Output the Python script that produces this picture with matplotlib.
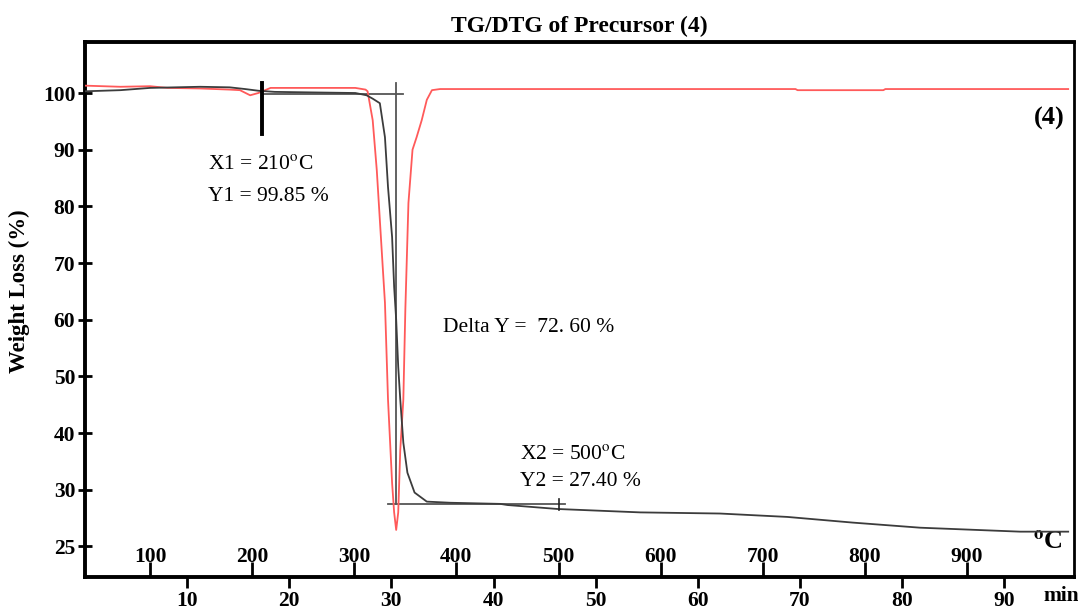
import matplotlib
matplotlib.use("Agg")
import matplotlib.pyplot as plt
import numpy as np

plt.rcParams['font.family'] = ['Liberation Serif', 'DejaVu Serif']
plt.rcParams['mathtext.fontset'] = 'stix'

# TG curve (weight %, vs temperature in degC)
tg_temp = [36, 71, 100, 149, 178, 193, 206, 222, 260, 301, 312, 318, 325, 330,
           333, 337, 339, 341, 343, 345, 348, 352, 359, 371, 394, 443, 450,
           499, 580, 658, 724, 788, 854, 952, 999]
tg_weight = [100.3, 100.5, 100.9, 101.1, 101.0, 100.7, 100.4, 100.2, 100.1,
             100.0, 99.6, 99.0, 98.2, 92.2, 83.4, 74.6, 65.8, 60.0, 51.7, 45.9,
             38.3, 33.0, 29.5, 27.9, 27.7, 27.5, 27.3, 26.6, 26.0, 25.8, 25.2,
             24.2, 23.3, 22.6, 22.6]

# DTG curve, drawn on the same scale
dtg_temp = [36, 71, 100, 117, 149, 178, 188, 198, 206, 218, 247, 301, 311, 313,
            318, 322, 325, 328, 330, 333, 337, 339, 341, 343, 345, 348, 350,
            353, 357, 361, 366, 371, 376, 384, 732, 734, 818, 820, 999]
dtg_value = [101.3, 101.1, 101.2, 100.9, 100.8, 100.6, 100.5, 99.6, 100.0,
             100.9, 100.9, 100.9, 100.6, 100.3, 95.2, 86.4, 77.6, 68.8, 63.0,
             45.9, 31.2, 26.0, 22.9, 26.0, 37.0, 45.9, 62.0, 80.6, 90.0, 92.2,
             95.2, 98.8, 100.5, 100.7, 100.7, 100.5, 100.5, 100.7, 100.7]

# step analysis markers
x1_temp, y1_weight = 210, 99.85
x2_temp, y2_weight = 500, 27.40
delta_y = 72.60
step_temp = 341

ytick_pos = [20, 30, 40, 50, 60, 70, 80, 90, 100]
ytick_labels = ['25', '30', '40', '50', '60', '70', '80', '90', '100']
temp_ticks = [100, 200, 300, 400, 500, 600, 700, 800, 900]
min_ticks = [10, 20, 30, 40, 50, 60, 70, 80, 90]
start_temp, rate = 36.3, 10.0

fig = plt.figure(figsize=(10.78, 6.09), dpi=100)
ax = fig.add_axes([85 / 1078, 1 - 577 / 609, 989 / 1078, 535 / 609])

ax.plot(dtg_temp, dtg_value, color='#ff5a5a', lw=1.3, zorder=3)
ax.plot(tg_temp, tg_weight, color='#3c3c3c', lw=1.3, zorder=4)

mk = dict(color='#555555', lw=1.3, zorder=2)
ax.plot([x1_temp, 348], [y1_weight, y1_weight], **mk)
ax.plot([step_temp, step_temp], [101.8, y2_weight], **mk)
ax.plot([333, 506], [y2_weight, y2_weight], **mk)
ax.plot([x2_temp, x2_temp], [y2_weight - 0.9, y2_weight + 0.9], color='#222222', lw=1.2, zorder=5)
ax.plot([x1_temp, x1_temp], [y1_weight + 2.0, y1_weight - 7.0], color='black', lw=2.8, zorder=5)

tfont = dict(fontsize=15.5, va='center', ha='left')
ax.text(157, 87.3, f'X1 = {x1_temp}$^{{\\rm o}}$C', **tfont)
ax.text(157, 81.7, f'Y1 = {y1_weight:.2f} %', **tfont)
ax.text(387, 58.7, 'Delta Y =  ' + f'{delta_y:.2f}'.replace('.', '. ') + ' %', **tfont)
ax.text(462, 36.2, f'X2 = {x2_temp}$^{{\\rm o}}$C', **tfont)
ax.text(462, 31.4, f'Y2 = {y2_weight:.2f} %', **tfont)
ax.text(0.991, 0.858, '(4)', transform=ax.transAxes, ha='right', va='center',
        fontsize=19, fontweight='bold')
ax.text(0.989, 0.063, '$^{\\bf o}$C', transform=ax.transAxes, ha='right', va='center',
        fontsize=19, fontweight='bold')
fig.text(1043 / 1078, 1 - 596 / 609, 'min', ha='left', va='center',
         fontsize=15.5, fontweight='bold')

ax.set_xlim(start_temp, 1004.7)
ax.set_ylim(14.6, 109.0)
ax.set_yticks(ytick_pos)
ax.set_yticklabels(ytick_labels)
ax.set_xticks(temp_ticks)
ax.tick_params(axis='y', direction='inout', length=10, width=2, pad=2,
               labelsize=15.5)
ax.tick_params(axis='x', direction='in', length=11, width=2, pad=-21.5,
               labelsize=15.5)
for lab in ax.get_xticklabels() + ax.get_yticklabels():
    lab.set_fontweight('bold')

sec = ax.secondary_xaxis('bottom', functions=(lambda t: (t - start_temp) / rate,
                                              lambda m: start_temp + rate * m))
sec.set_xticks(min_ticks)
sec.tick_params(direction='out', length=8, width=2, pad=2, labelsize=15.5)
for lab in sec.get_xticklabels():
    lab.set_fontweight('bold')
sec.spines['bottom'].set_visible(False)

for side, w in [('left', 2.8), ('bottom', 2.8), ('top', 2.8), ('right', 2.0)]:
    ax.spines[side].set_linewidth(w)

ax.set_title('TG/DTG of Precursor (4)', fontsize=17, fontweight='bold', pad=7)
ax.set_ylabel('Weight Loss (%)', fontsize=16.5, fontweight='bold')
ax.yaxis.set_label_coords(-0.056, 0.535)

fig.savefig('out.png', dpi=100)
